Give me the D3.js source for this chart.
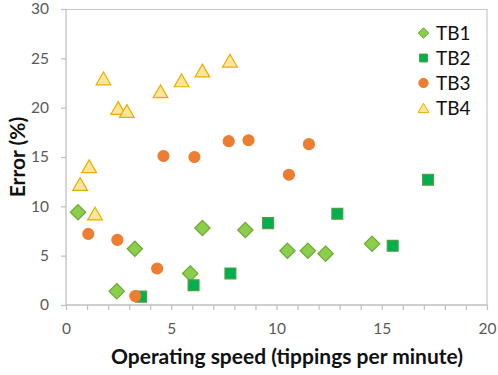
<!DOCTYPE html>
<html>
<head>
<meta charset="utf-8">
<script src="https://cdn.jsdelivr.net/npm/d3@7"></script>
<style>
  body { margin: 0; background: #fff; }
  svg { display: block; font-family: Lato, "Open Sans", sans-serif; }
</style>
</head>
<body>
<div id="chart"></div>
<script>
// Data: [speed, error]
const tb1 = [[0.57, 9.4], [2.41, 1.4], [3.27, 5.7], [5.9, 3.2], [6.48, 7.8], [8.52, 7.6],
             [10.52, 5.5], [11.49, 5.5], [12.33, 5.2], [14.54, 6.2]];
const tb2 = [[3.57, 0.85], [6.06, 2.0], [7.81, 3.2], [9.6, 8.3], [12.89, 9.25], [15.52, 6.0], [17.2, 12.7]];
const tb3 = [[1.06, 7.2], [2.44, 6.6], [3.29, 0.9], [4.33, 3.7], [4.63, 15.1], [6.1, 15.0],
             [7.73, 16.6], [8.67, 16.7], [10.59, 13.2], [11.54, 16.3]];
const tb4 = [[0.67, 12.2], [1.1, 14.0], [1.38, 9.2], [1.78, 22.9], [2.48, 19.9], [2.89, 19.6],
             [4.49, 21.6], [5.49, 22.7], [6.48, 23.7], [7.79, 24.7]];
const seriesNames = ["TB1", "TB2", "TB3", "TB4"];
const xTicks = [0, 5, 10, 15, 20];
const yTicks = [0, 5, 10, 15, 20, 25, 30];

const W = 498, H = 375;
const margin = { top: 9, right: 11, bottom: 70, left: 66 };
const width = W - margin.left - margin.right;
const height = H - margin.top - margin.bottom;

const svg = d3.select("#chart").append("svg")
    .attr("width", W)
    .attr("height", H);

const g = svg.append("g")
    .attr("transform", `translate(${margin.left},${margin.top})`);

const x = d3.scaleLinear().domain([0, 20]).range([0, width]);
const y = d3.scaleLinear().domain([0, 30]).range([height, 0]);

// frame: top and right border
g.append("path")
    .attr("d", `M0,0.5H${width}V${height}`)
    .attr("fill", "none")
    .attr("stroke", "#c8c8c8")
    .attr("stroke-width", 1.2);

// x axis with minor ticks every 1
const xAxis = g.append("g")
    .attr("transform", `translate(0,${height})`)
    .call(d3.axisBottom(x).tickValues(d3.range(0, 21, 1)).tickSize(5).tickFormat(d => xTicks.includes(d) ? d : ""))
    .call(a => a.select(".domain").attr("stroke", "#bfbfbf").attr("stroke-width", 1.3).attr("d", `M0,0H${width}`));
xAxis.selectAll(".tick line").attr("stroke", "#bfbfbf").attr("stroke-width", 1.2);
xAxis.selectAll(".tick text").attr("fill", "#595959").attr("font-size", 15.5).attr("dy", "1.35em")
    .attr("font-family", "Lato, sans-serif");

const yAxis = g.append("g")
    .call(d3.axisLeft(y).tickValues(yTicks).tickSize(5).tickPadding(12))
    .call(a => a.select(".domain").attr("stroke", "#bfbfbf").attr("stroke-width", 1.3).attr("d", `M0,0V${height}`));
yAxis.selectAll(".tick line").attr("stroke", "#bfbfbf").attr("stroke-width", 1.2);
yAxis.selectAll(".tick text").attr("fill", "#595959").attr("font-size", 15.5)
    .attr("font-family", "Lato, sans-serif");

// axis titles
svg.append("text")
    .attr("x", 287)
    .attr("y", 364)
    .attr("text-anchor", "middle")
    .attr("font-size", 21)
    .attr("font-weight", "bold")
    .attr("fill", "#111")
    .text("Operating speed (tippings per minute)");

svg.append("text")
    .attr("transform", `translate(25,${margin.top + height / 2}) rotate(-90)`)
    .attr("text-anchor", "middle")
    .attr("font-size", 21)
    .attr("font-weight", "bold")
    .attr("fill", "#111")
    .text("Error (%)");

// marker styles
const styles = [
    { data: tb1, type: d3.symbolDiamond2, fill: "#8ccd4b", stroke: "#6aaa35", size: 150, lsize: 70 },
    { data: tb2, type: d3.symbolSquare2, fill: "#00b050", stroke: "#4e9f3d", size: 150, lsize: 80 },
    { data: tb3, type: d3.symbolCircle, fill: "#ed7d31", stroke: "#ed7d31", size: 95, lsize: 68 },
    { data: tb4, type: d3.symbolTriangle2, fill: "#ffe699", stroke: "#e8ad00", size: 155, lsize: 85 }
];

styles.forEach(s => {
    const sym = d3.symbol().type(s.type).size(s.size);
    g.append("g").selectAll("path")
        .data(s.data)
        .join("path")
        .attr("d", sym)
        .attr("transform", d => {
            const off = s.type === d3.symbolTriangle2 ? 1.5 : 0;
            return `translate(${x(d[0])},${y(d[1]) + off})`;
        })
        .attr("fill", s.fill)
        .attr("stroke", s.stroke)
        .attr("stroke-width", 1.2);
});

// legend
const legend = svg.append("g").attr("transform", "translate(423.5,33)");
seriesNames.forEach((name, i) => {
    const s = styles[i];
    const row = legend.append("g").attr("transform", `translate(0,${i * 25})`);
    row.append("path")
        .attr("d", d3.symbol().type(s.type).size(s.lsize))
        .attr("transform", s.type === d3.symbolTriangle2 ? "translate(0,1.5)" : null)
        .attr("fill", s.fill)
        .attr("stroke", s.stroke)
        .attr("stroke-width", 1);
    row.append("text")
        .attr("x", 12.5)
        .attr("dy", "0.36em")
        .attr("font-size", 19)
        .attr("fill", "#111")
        .text(name);
});
</script>
</body>
</html>
